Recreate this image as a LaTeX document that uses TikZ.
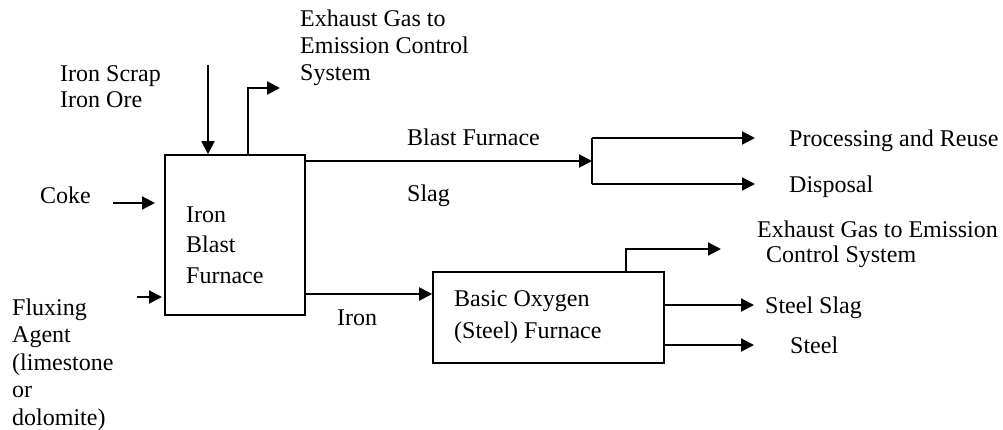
\documentclass[tikz,border=0pt]{standalone}
\usepackage{fontspec}
\setmainfont{Liberation Serif}
\usetikzlibrary{arrows.meta}
\begin{document}
\begin{tikzpicture}[x=1pt,y=-1pt,
  lbl/.style={inner sep=0pt,anchor=base west,align=left,font=\fontsize{24}{27}\selectfont},
  unit/.style={draw,line width=1.6pt,inner sep=0pt},
  flow/.style={line width=2pt,-{Triangle[length=13pt,width=13pt]}},
  seg/.style={line width=2pt}]
\useasboundingbox (0,0) rectangle (1003,430);
% boxes
\node[unit,minimum width=140pt,minimum height=160pt] (bf) at (235,235) {};
\node[unit,minimum width=231pt,minimum height=91pt] (bof) at (548.5,317.5) {};
% box texts (anchor = baseline of last line)
\node[lbl,font=\fontsize{24}{30.5}\selectfont] (bft) at (186,283) {Iron\\Blast\\Furnace};
\node[lbl,font=\fontsize{24}{32}\selectfont] (boft) at (454,338) {Basic Oxygen\\(Steel) Furnace};
% labels
\node[lbl] (exh1) at (300,81) {Exhaust Gas to\\Emission Control\\System};
\node[lbl,font=\fontsize{24}{26}\selectfont] (scrap) at (60,108) {Iron Scrap\\Iron Ore};
\node[lbl] (coke) at (40,204) {Coke};
\node[lbl,font=\fontsize{24}{27.5}\selectfont] (flux) at (12,425) {Fluxing\\Agent\\(limestone\\or\\dolomite)};
\node[lbl] (bfs1) at (407,146) {Blast Furnace};
\node[lbl] (bfs2) at (407,202) {Slag};
\node[lbl] (iron) at (337,325) {Iron};
\node[lbl] (reuse) at (789,147) {Processing and Reuse};
\node[lbl] (disp) at (789,193) {Disposal};
\node[lbl,font=\fontsize{24}{25}\selectfont] (exh2) at (757,262) {Exhaust Gas to Emission\\\hspace*{9pt}Control System};
\node[lbl] (sslag) at (765,313) {Steel Slag};
\node[lbl] (steel) at (790,353) {Steel};
% coordinates
\coordinate (scrapS) at (208,65);
\coordinate (gas1a) at (248,88);
\coordinate (gas1b) at (280,88);
\coordinate (cokeS) at (113,203);
\coordinate (cokeE) at (155,203);
\coordinate (fluxS) at (137,297);
\coordinate (fluxE) at (162,297);
\coordinate (split) at (592,161);
\coordinate (splitT) at (592,138);
\coordinate (splitB) at (592,184);
\coordinate (reuseE) at (755,138);
\coordinate (dispE) at (755,184);
\coordinate (gas2a) at (626,249);
\coordinate (gas2b) at (721,249);
\coordinate (sslagE) at (754,305);
\coordinate (steelE) at (754,345);
% connectors
\draw[flow] (scrapS) -- (scrapS |- bf.north);
\draw[flow] (gas1a |- bf.north) -- (gas1a) -- (gas1b);
\draw[flow] (cokeS) -- (cokeE);
\draw[flow] (fluxS) -- (fluxE);
\draw[flow] (split -| bf.east) -- (split);
\draw[seg] (splitT) -- (splitB);
\draw[flow] (splitT) -- (reuseE);
\draw[flow] (splitB) -- (dispE);
\draw[flow] (bf.east |- 0,294) -- (bof.west |- 0,294);
\draw[flow] (gas2a |- bof.north) -- (gas2a) -- (gas2b);
\draw[flow] (bof.east |- sslagE) -- (sslagE);
\draw[flow] (bof.east |- steelE) -- (steelE);
\end{tikzpicture}
\end{document}
